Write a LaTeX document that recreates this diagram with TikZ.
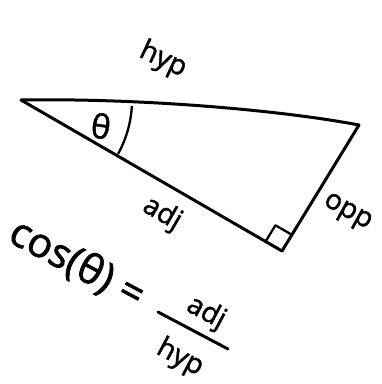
\documentclass[tikz,border=0pt]{standalone}
\usepackage{fontspec}
\setmainfont{Open Sans}[UprightFeatures={FakeBold=1.5}]
\usetikzlibrary{calc}

\begin{document}
\begin{tikzpicture}[
	x=1pt, y=-1pt,
	side/.style={
		line width=3pt,
		line cap=round,
		line join=round,
		black
	},
	anglemark/.style={
		line width=2.3pt,
		line join=round,
		black
	},
	sidelabel/.style={
		inner sep=0pt,
		font=\fontsize{28}{28}\selectfont
	},
	formula/.style={
		inner sep=0pt,
		font=\fontsize{41}{41}\selectfont
	}
]
\useasboundingbox (0,0) rectangle (382,384);

% Vertices
\coordinate (A) at (21,100);
\coordinate (B) at (359,125);
\coordinate (C) at (282,251);

% Sides
\draw[side] (A) .. controls (140,98) and (280,110) .. (B);
\draw[side] (B) -- (C);
\draw[side] (C) -- (A);

% Angles
\draw[anglemark] ([shift={(3:111)}]A) arc[start angle=3, end angle=29, radius=111];
\node[sidelabel,rotate=-8,font=\fontsize{33}{33}\selectfont] (theta) at (101,126) {θ};
\coordinate (ra1) at ($(C)!19pt!(A)$);
\coordinate (ra2) at ($(C)!19pt!(B)$);
\draw[anglemark] (ra1) -- ($(ra1)+(ra2)-(C)$) -- (ra2);

% Side labels
\node[sidelabel,rotate=-25] (hyp) at (163,60) {hyp};
\node[sidelabel,rotate=-30] (adj) at (162,214) {adj};
\node[sidelabel,rotate=-29] (opp) at (347,213) {opp};

% Formula
\node[formula,rotate=-28] (cos) at (77,264) {cos(θ) =};
\coordinate (fl1) at (158,312);
\coordinate (fl2) at (228,349);
\draw[side] (fl1) -- (fl2);
\node[sidelabel,rotate=-28] (num) at (206,313) {adj};
\node[sidelabel,rotate=-28] (den) at (180,358) {hyp};

\end{tikzpicture}
\end{document}
